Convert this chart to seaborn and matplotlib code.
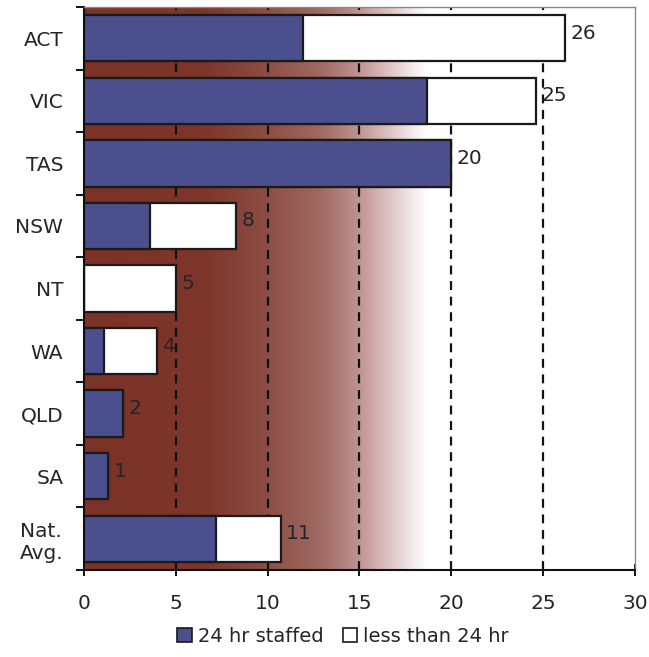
import numpy as np
import pandas as pd
import matplotlib
matplotlib.use("Agg")
import matplotlib.pyplot as plt
from matplotlib.colors import LinearSegmentedColormap
from matplotlib.patches import Patch
import seaborn as sns

# Data: regions, 24-hour staffed count and overall count (staffed + less than 24 hr)
regions = ["ACT", "VIC", "TAS", "NSW", "NT", "WA", "QLD", "SA", "Nat.\nAvg."]
staffed_24hr = [11.9, 18.7, 20.0, 3.6, 0.0, 1.1, 2.1, 1.3, 7.2]
all_hours_total = [26.2, 24.6, 20.0, 8.3, 5.0, 4.0, 2.1, 1.3, 10.7]
x_ticks = [0, 5, 10, 15, 20, 25, 30]
series_names = ["24 hr staffed", "less than 24 hr"]

df = pd.DataFrame({"region": regions, "staffed": staffed_24hr, "total": all_hours_total})

BLUE = "#4b4f8e"
EDGE = "#1a1a1a"
TEXT = "#24242c"
FS = 14.5

sns.set_theme(style="white")
plt.rcParams["font.family"] = ["DejaVu Sans"]

fig = plt.figure(figsize=(6.49, 6.57), dpi=100)
ax = fig.add_axes([0.1294, 0.1324, 0.8490, 0.8569])

# Plot-area background: dark red-brown fading to white
bg = LinearSegmentedColormap.from_list(
    "bg",
    [(0.0, "#7b3227"), (0.22, "#7e362b"), (0.33, "#8c4e44"), (0.43, "#a06a62"),
     (0.5, "#bf9592"), (0.55, "#dcc0c0"), (0.60, "#f5ecee"), (0.625, "#ffffff"),
     (1.0, "#ffffff")],
)
grad = np.linspace(0, 1, 600)[None, :]
ax.imshow(grad, extent=[0, 30, 8.5, -0.5], aspect="auto", cmap=bg,
          zorder=0, interpolation="bicubic")

# Dashed reference lines
for xv in x_ticks[1:-1]:
    ax.axvline(xv, color="#111111", ls=(0, (4, 3)), lw=1.6, zorder=1)

# Stacked bars: overall count in white, staffed portion in blue on top
sns.barplot(data=df, x="total", y="region", orient="h", color="white",
            saturation=1, edgecolor=EDGE, linewidth=1.6, width=0.74,
            ax=ax, zorder=2)
sns.barplot(data=df, x="staffed", y="region", orient="h", color=BLUE,
            saturation=1, edgecolor=EDGE, linewidth=1.6, width=0.74,
            ax=ax, zorder=3)

for i, t in enumerate(all_hours_total):
    ax.text(t + 0.3, i - 0.08, f"{round(t)}", va="center", ha="left",
            fontsize=FS, color=TEXT, zorder=4)

ax.set_xlim(0, 30)
ax.set_ylim(8.5, -0.5)
ax.set_xticks(x_ticks)
ax.set_xticklabels([str(v) for v in x_ticks])
ax.set_xlabel("")
ax.set_ylabel("")

ax.tick_params(axis="x", direction="inout", length=9, width=1.4, color="#111111",
               labelsize=FS, labelcolor=TEXT, pad=13, bottom=True)
ax.tick_params(axis="y", which="major", length=0, pad=15, labelsize=FS,
               labelcolor=TEXT)
ax.set_yticks(np.arange(-0.5, 9.0, 1.0), minor=True)
ax.tick_params(axis="y", which="minor", direction="out", length=6, width=1.4,
               color="#111111", left=True)
for lab in ax.get_yticklabels():
    lab.set_multialignment("center")

for side in ["left", "bottom"]:
    ax.spines[side].set_color("#111111")
    ax.spines[side].set_linewidth(1.5)
for side in ["top", "right"]:
    ax.spines[side].set_color("#8a8a8a")
    ax.spines[side].set_linewidth(1.0)
for sp in ax.spines.values():
    sp.set_zorder(5)

handles = [Patch(facecolor=BLUE, edgecolor=EDGE, linewidth=1.2),
           Patch(facecolor="white", edgecolor=EDGE, linewidth=1.2)]
fig.legend(handles, series_names, loc="center",
           bbox_to_anchor=(343 / 649, 1 - 636 / 657), ncol=2, frameon=False,
           fontsize=14, handlelength=0.75, handleheight=0.75, handletextpad=0.3,
           columnspacing=1.0, labelcolor=TEXT, borderpad=0.1)

fig.savefig("out.png", dpi=100)
